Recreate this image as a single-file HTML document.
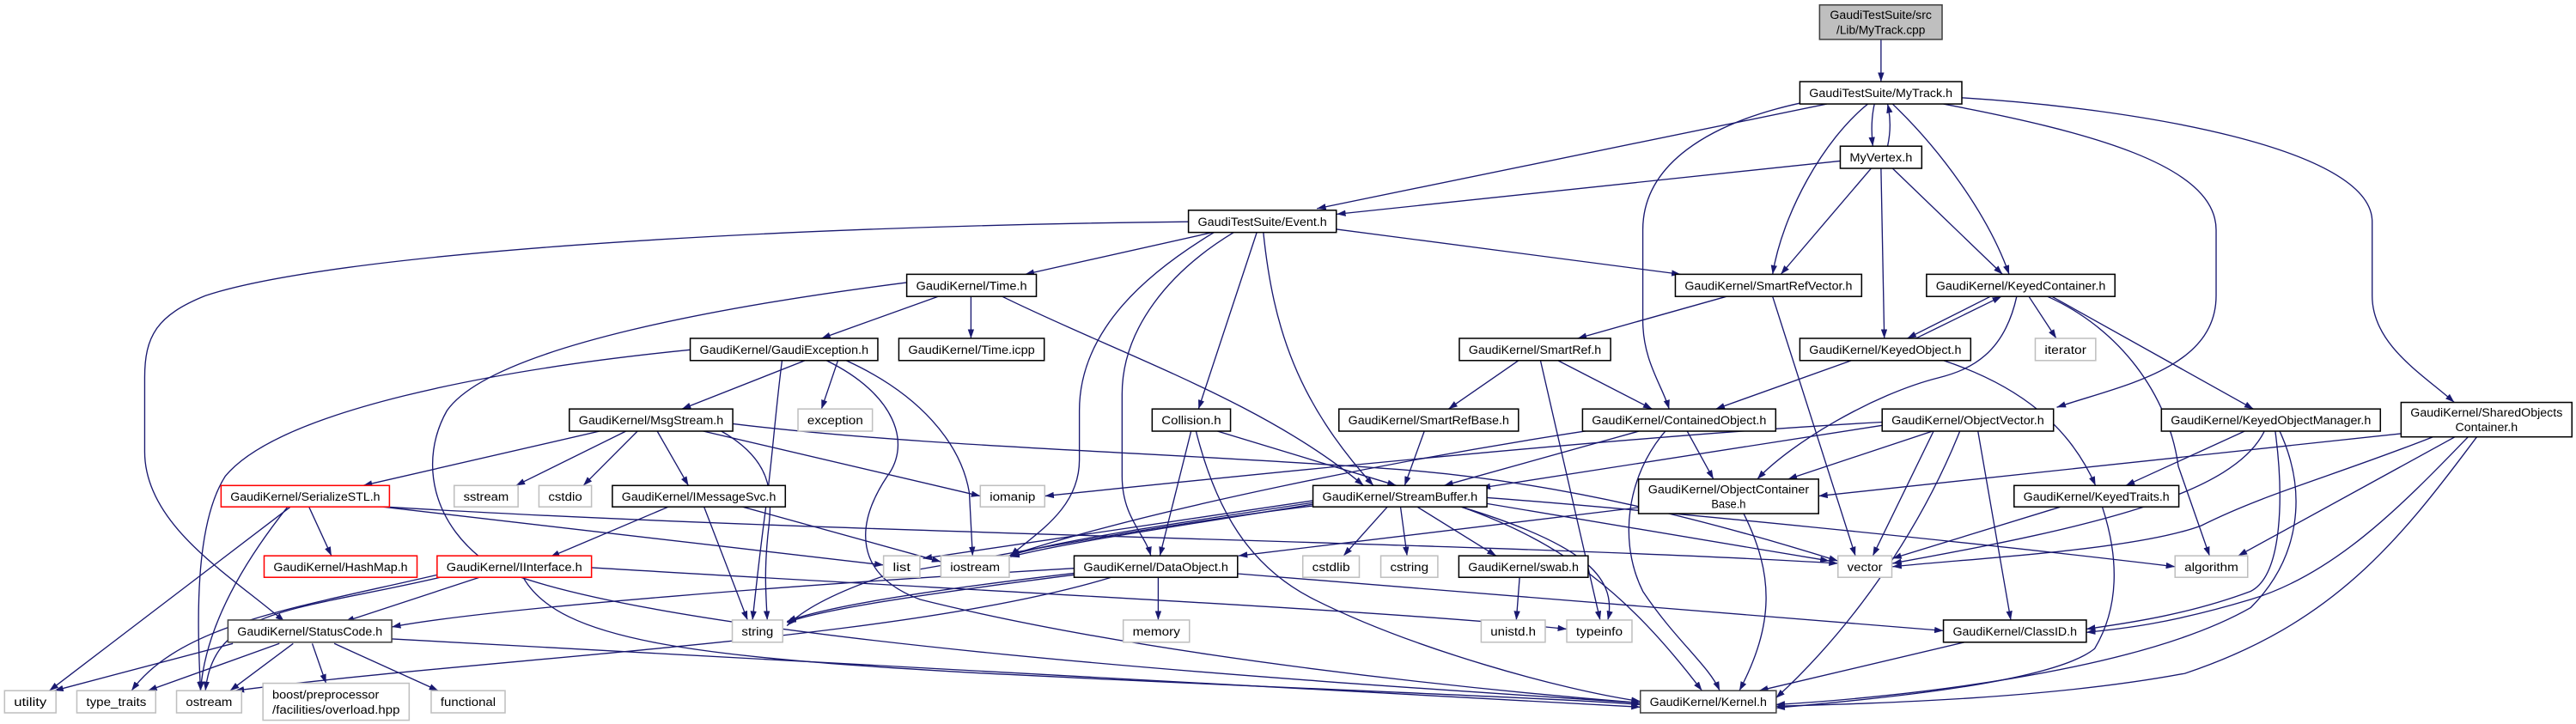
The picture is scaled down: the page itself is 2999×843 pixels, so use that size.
<!DOCTYPE html>
<html><head><meta charset="utf-8"><style>
html,body{margin:0;padding:0;background:#fff;width:2999px;height:843px;overflow:hidden}
svg{display:block}
text{font-family:"Liberation Sans","DejaVu Sans",sans-serif;font-size:7.2px;fill:#000}
.e{fill:none;stroke:#191970;stroke-width:0.7;marker-end:url(#a)}
.n rect{fill:#fff;stroke:#000;stroke-width:0.8}
.g rect{fill:#fff;stroke:#bfbfbf;stroke-width:0.8}
.r rect{fill:#fff;stroke:#ff0000;stroke-width:0.8}
</style></head><body>
<svg width="2999" height="843" viewBox="0 0 1568 440.8" xmlns="http://www.w3.org/2000/svg">
<defs><marker id="a" markerUnits="userSpaceOnUse" viewBox="0 0 10 7" refX="10" refY="3.5" markerWidth="5.5" markerHeight="3.9" orient="auto"><path d="M0,0 L10,3.5 L0,7 z" fill="#191970"/></marker></defs>
<g>
<path class="e" d="M1145,24 L1145,49.7"/>
<path class="e" d="M1141,63.3 C1139,72 1139,80 1140,89"/>
<path class="e" d="M1149,89 C1151,80 1151,72 1149,63.3"/>
<path class="e" d="M1112,63.3 L801.6,127"/>
<path class="e" d="M1120.2,98 L813.6,130.4"/>
<path class="e" d="M1096,62.7 C1040,75 1000,100 1000,140 L1000,195 C1000,220 1012,235 1016,249"/>
<path class="e" d="M1137,63.3 C1110,85 1085,130 1079,167"/>
<path class="e" d="M1139,102.5 L1084,167"/>
<path class="e" d="M1152,63.3 C1180,90 1210,130 1223,167"/>
<path class="e" d="M1152,102.5 L1219,167"/>
<path class="e" d="M1145,102.5 L1147,206"/>
<path class="e" d="M1183,63.3 C1270,80 1349,100 1349,140 L1349,180 C1349,225 1290,235 1252,248"/>
<path class="e" d="M1194,59.5 C1300,66 1444,90 1444,135 L1444,180 C1444,210 1475,228 1494,245"/>
<path class="e" d="M738,141.5 L624,167"/>
<path class="e" d="M813,139.5 L1023,167"/>
<path class="e" d="M765,141.5 L729.5,249"/>
<path class="e" d="M769,141.5 C775,200 790,245 836,295.6"/>
<path class="e" d="M739,141.5 C700,165 657,200 657,250 L657,280 C657,310 630,325 615,338.4"/>
<path class="e" d="M751,141.5 C712,165 683,200 683,240 L683,290 C683,315 697,325 700.5,338.4"/>
<path class="e" d="M723.4,135 C450,138 200,155 125,180 C95,192 88,205 88,230 L88,275 C88,320 140,350 173,378.4"/>
<path class="e" d="M571,180.5 L500,206"/>
<path class="e" d="M591,180.5 L591,206"/>
<path class="e" d="M610,180.5 C680,215 770,245 830,295.6"/>
<path class="e" d="M552,172 C450,185 300,210 272,250 C255,280 262,320 300,345 C400,390 800,415 998.5,428"/>
<path class="e" d="M490,219.5 L415,249"/>
<path class="e" d="M510,219.5 L500,249"/>
<path class="e" d="M420,213 C300,225 170,250 137,290 C118,320 120,380 122,420.5"/>
<path class="e" d="M476,219.5 C472,250 470,280 466,310 C462,340 460,360 458,377.5"/>
<path class="e" d="M503,219.5 C545,240 555,270 540,290 C520,320 520,350 560,365 C700,400 900,420 998.5,428"/>
<path class="e" d="M515,219.5 C560,240 585,270 590,300 L592,338.4"/>
<path class="e" d="M365,262.5 L221,295.6"/>
<path class="e" d="M381,262.5 L314,295.6"/>
<path class="e" d="M388,262.5 L355,295.6"/>
<path class="e" d="M400,262.5 L419,295.6"/>
<path class="e" d="M428,262.5 L596.7,302"/>
<path class="e" d="M439,262.5 C470,280 470,300 468,320 C465,345 466,360 467,377.5"/>
<path class="e" d="M446,258 C560,272 700,275 840,285 C950,292 1050,320 1118.8,341.5"/>
<path class="e" d="M188,308.6 L201.7,338.4"/>
<path class="e" d="M176.7,308.6 L30,420.5"/>
<path class="e" d="M175,308.6 C150,340 125,380 122,420.5"/>
<path class="e" d="M233,308.6 L537.8,344"/>
<path class="e" d="M235,308.6 C500,325 900,330 1118.8,343"/>
<path class="e" d="M406.8,308.6 L335,339"/>
<path class="e" d="M428.5,308.6 L455,377.5"/>
<path class="e" d="M452,308.6 L572.7,342"/>
<path class="e" d="M291.8,351.5 L210,378.4"/>
<path class="e" d="M268,351.5 C180,372 130,370 125,420.5"/>
<path class="e" d="M266,350 C180,370 110,380 80,420.5"/>
<path class="e" d="M318.4,351.5 C340,390 420,400 600,410 C800,420 950,425 998.5,429"/>
<path class="e" d="M360,345.6 C600,360 850,372 953.7,383"/>
<path class="e" d="M141.7,391.8 L33,420.5"/>
<path class="e" d="M170,391.8 L90,420.5"/>
<path class="e" d="M178.4,391.8 L140,420.5"/>
<path class="e" d="M190,391.8 L198.4,416"/>
<path class="e" d="M203.4,391.8 L266.7,420.5"/>
<path class="e" d="M238.4,389 L998.5,430.5"/>
<path class="e" d="M705,351.5 L705,377.5"/>
<path class="e" d="M653.8,349 C560,360 500,370 479,378.4"/>
<path class="e" d="M653.8,350 C560,362 500,371 479,379"/>
<path class="e" d="M676.4,351.5 C550,390 300,400 143,420.5"/>
<path class="e" d="M753.3,349.3 L1183,384"/>
<path class="e" d="M653.8,346 C500,355 300,370 238.4,381.7"/>
<path class="e" d="M799.2,304.8 L561.8,340"/>
<path class="e" d="M799.2,307 C720,320 650,330 615,339"/>
<path class="e" d="M799.2,306 C720,318 650,328 615,338"/>
<path class="e" d="M799.2,308 C700,320 600,340 540,350 C510,360 490,370 479,381"/>
<path class="e" d="M844.5,308.6 L817.8,338.4"/>
<path class="e" d="M852.5,308.6 L856.5,338.4"/>
<path class="e" d="M862.7,308.6 L910.7,338.4"/>
<path class="e" d="M889.4,308.6 C960,330 985,350 978.7,377.5"/>
<path class="e" d="M889.4,308.6 C950,330 990,360 1036,420.5"/>
<path class="e" d="M905.1,306.6 L1113.5,341.5"/>
<path class="e" d="M905.1,303 C1000,310 1200,330 1324,345"/>
<path class="e" d="M925,351.5 L923,377.5"/>
<path class="e" d="M1051,180.5 L960.3,206"/>
<path class="e" d="M1079,180.5 L1129.4,338.4"/>
<path class="e" d="M924.3,219.5 L881.7,249"/>
<path class="e" d="M948.3,219.5 L1005.7,249"/>
<path class="e" d="M937.7,219.5 L974,377.5"/>
<path class="e" d="M867,262.5 L855,295.6"/>
<path class="e" d="M1127,219.5 L1044.4,249"/>
<path class="e" d="M1166.3,206 L1218.3,180.5"/>
<path class="e" d="M1183,219.5 C1230,235 1260,260 1275.6,295.6"/>
<path class="e" d="M1211.6,180.5 L1161,206"/>
<path class="e" d="M1235,180.5 L1251.7,206"/>
<path class="e" d="M1227.6,180.5 C1220,215 1200,225 1180,230 C1140,240 1090,270 1069.7,291.7"/>
<path class="e" d="M1246.3,180.5 C1290,200 1320,240 1326,283.9 L1345,338.4"/>
<path class="e" d="M1249,180.5 L1371.7,249"/>
<path class="e" d="M997.7,262.5 L879,295.6"/>
<path class="e" d="M968,262 C850,280 700,310 614,338.4"/>
<path class="e" d="M1027,262.5 L1043,291.7"/>
<path class="e" d="M1013.7,262.5 C990,290 985,330 1000,360 C1020,390 1040,405 1046.8,420.5"/>
<path class="e" d="M1176.4,262.5 L1088.4,291.7"/>
<path class="e" d="M1145.7,259 L901.7,297"/>
<path class="e" d="M1145.7,257 C1000,265 800,285 636,302"/>
<path class="e" d="M1177,262.5 L1140,338.4"/>
<path class="e" d="M1204,262.5 L1224,377.5"/>
<path class="e" d="M1193,262.5 C1170,320 1130,380 1081,425"/>
<path class="e" d="M1366.4,262.5 L1294,295.6"/>
<path class="e" d="M1378.4,262.5 C1360,300 1280,320 1152,343"/>
<path class="e" d="M1385,262.5 C1390,300 1390,350 1370,360 C1330,375 1290,380 1270,383"/>
<path class="e" d="M1387.7,262.5 C1405,300 1400,340 1370,370 C1300,410 1150,425 1081,429"/>
<path class="e" d="M1461.6,264 L1107,302"/>
<path class="e" d="M1481,266 C1420,290 1380,300 1340,320 C1300,335 1200,340 1152,345"/>
<path class="e" d="M1494.4,266 L1362.4,338.4"/>
<path class="e" d="M1502.4,266 C1460,310 1420,350 1370,365 C1320,380 1290,383 1270,385"/>
<path class="e" d="M1507.7,266 C1460,330 1420,380 1330,410 C1250,425 1150,428 1081,430"/>
<path class="e" d="M1254.3,308.6 L1152,340"/>
<path class="e" d="M1279.7,308.6 C1290,340 1290,370 1275,395 C1250,415 1150,425 1081,431"/>
<path class="e" d="M997.4,309 L753.8,338.4"/>
<path class="e" d="M1061.4,312.7 C1080,350 1080,380 1058.8,420.5"/>
<path class="e" d="M1196,391 L1070.8,420.5"/>
<path class="e" d="M725,262.5 L706,338.4"/>
<path class="e" d="M741,262.5 L850,295.6"/>
<path class="e" d="M728,262.5 C740,310 760,345 800,365 C860,395 950,420 998.5,427"/>
</g>

<g class="n"><rect x="1107.6" y="3" width="74.6" height="21" style="fill:#bfbfbf;stroke:#404040"/>
<text x="1144.9" y="11.6" text-anchor="middle" textLength="62" lengthAdjust="spacingAndGlyphs">GaudiTestSuite/src</text>
<text x="1144.9" y="20.6" text-anchor="middle" textLength="54" lengthAdjust="spacingAndGlyphs">/Lib/MyTrack.cpp</text></g>

<g class="n"><rect x="1095.6" y="49.7" width="98.6" height="13.6"/><text x="1101.3" y="59.1" textLength="87.2" lengthAdjust="spacingAndGlyphs">GaudiTestSuite/MyTrack.h</text></g>
<g class="n"><rect x="1120.2" y="89" width="49.6" height="13.5"/><text x="1125.9" y="98.4" textLength="38.2" lengthAdjust="spacingAndGlyphs">MyVertex.h</text></g>
<g class="n"><rect x="723.4" y="128" width="90" height="13.5"/><text x="729.1" y="137.4" textLength="78.6" lengthAdjust="spacingAndGlyphs">GaudiTestSuite/Event.h</text></g>
<g class="n"><rect x="551.9" y="167" width="78.9" height="13.5"/><text x="557.6" y="176.4" textLength="67.5" lengthAdjust="spacingAndGlyphs">GaudiKernel/Time.h</text></g>
<g class="n"><rect x="1019.8" y="167" width="113.4" height="13.5"/><text x="1025.5" y="176.4" textLength="102" lengthAdjust="spacingAndGlyphs">GaudiKernel/SmartRefVector.h</text></g>
<g class="n"><rect x="1172.7" y="167" width="114.7" height="13.5"/><text x="1178.4" y="176.4" textLength="103.3" lengthAdjust="spacingAndGlyphs">GaudiKernel/KeyedContainer.h</text></g>
<g class="n"><rect x="420.1" y="206" width="114.2" height="13.5"/><text x="425.8" y="215.4" textLength="102.8" lengthAdjust="spacingAndGlyphs">GaudiKernel/GaudiException.h</text></g>
<g class="n"><rect x="547.1" y="206" width="88.5" height="13.5"/><text x="552.8" y="215.4" textLength="77.1" lengthAdjust="spacingAndGlyphs">GaudiKernel/Time.icpp</text></g>
<g class="n"><rect x="888.3" y="206" width="92.1" height="13.5"/><text x="894" y="215.4" textLength="80.7" lengthAdjust="spacingAndGlyphs">GaudiKernel/SmartRef.h</text></g>
<g class="n"><rect x="1095.6" y="206" width="104" height="13.5"/><text x="1101.3" y="215.4" textLength="92.6" lengthAdjust="spacingAndGlyphs">GaudiKernel/KeyedObject.h</text></g>
<g class="g"><rect x="1238.9" y="206" width="36.8" height="13.5"/><text x="1244.6" y="215.4" textLength="25.4" lengthAdjust="spacingAndGlyphs">iterator</text></g>
<g class="n"><rect x="346.5" y="249" width="99.5" height="13.5"/><text x="352.2" y="258.4" textLength="88.1" lengthAdjust="spacingAndGlyphs">GaudiKernel/MsgStream.h</text></g>
<g class="g"><rect x="485.7" y="249" width="45.3" height="13.5"/><text x="491.4" y="258.4" textLength="33.9" lengthAdjust="spacingAndGlyphs">exception</text></g>
<g class="n"><rect x="701.3" y="249" width="47.7" height="13.5"/><text x="707" y="258.4" textLength="36.3" lengthAdjust="spacingAndGlyphs">Collision.h</text></g>
<g class="n"><rect x="815" y="249" width="109.3" height="13.5"/><text x="820.7" y="258.4" textLength="97.9" lengthAdjust="spacingAndGlyphs">GaudiKernel/SmartRefBase.h</text></g>
<g class="n"><rect x="963.3" y="249" width="117.6" height="13.5"/><text x="969" y="258.4" textLength="106.2" lengthAdjust="spacingAndGlyphs">GaudiKernel/ContainedObject.h</text></g>
<g class="n"><rect x="1145.7" y="249" width="104.3" height="13.5"/><text x="1151.4" y="258.4" textLength="92.9" lengthAdjust="spacingAndGlyphs">GaudiKernel/ObjectVector.h</text></g>
<g class="n"><rect x="1315.7" y="249" width="133.3" height="13.5"/><text x="1321.4" y="258.4" textLength="121.9" lengthAdjust="spacingAndGlyphs">GaudiKernel/KeyedObjectManager.h</text></g>
<g class="n"><rect x="1461.6" y="245" width="104" height="21"/><text x="1513.6" y="253.6" text-anchor="middle" textLength="92.6" lengthAdjust="spacingAndGlyphs">GaudiKernel/SharedObjects</text><text x="1513.6" y="262.6" text-anchor="middle" textLength="38" lengthAdjust="spacingAndGlyphs">Container.h</text></g>

<g class="r"><rect x="134.5" y="295.6" width="102.5" height="13"/><text x="140.2" y="304.8" textLength="91.1" lengthAdjust="spacingAndGlyphs">GaudiKernel/SerializeSTL.h</text></g>
<g class="g"><rect x="276.4" y="295.6" width="38.9" height="13"/><text x="282.1" y="304.8" textLength="27.5" lengthAdjust="spacingAndGlyphs">sstream</text></g>
<g class="g"><rect x="328" y="295.6" width="32" height="13"/><text x="333.7" y="304.8" textLength="20.6" lengthAdjust="spacingAndGlyphs">cstdio</text></g>
<g class="n"><rect x="372.7" y="295.6" width="105.3" height="13"/><text x="378.4" y="304.8" textLength="93.9" lengthAdjust="spacingAndGlyphs">GaudiKernel/IMessageSvc.h</text></g>
<g class="g"><rect x="596.7" y="295.6" width="39.2" height="13"/><text x="602.4" y="304.8" textLength="27.8" lengthAdjust="spacingAndGlyphs">iomanip</text></g>
<g class="n"><rect x="799.2" y="295.6" width="105.9" height="13"/><text x="804.9" y="304.8" textLength="94.5" lengthAdjust="spacingAndGlyphs">GaudiKernel/StreamBuffer.h</text></g>
<g class="n"><rect x="997.4" y="291.7" width="109.6" height="21"/><text x="1052.2" y="300.3" text-anchor="middle" textLength="98" lengthAdjust="spacingAndGlyphs">GaudiKernel/ObjectContainer</text><text x="1052.2" y="309.3" text-anchor="middle" textLength="21" lengthAdjust="spacingAndGlyphs">Base.h</text></g>
<g class="n"><rect x="1226" y="295.6" width="100.3" height="13"/><text x="1231.7" y="304.8" textLength="88.9" lengthAdjust="spacingAndGlyphs">GaudiKernel/KeyedTraits.h</text></g>

<g class="r"><rect x="160.7" y="338.4" width="93.1" height="13.1"/><text x="166.4" y="347.6" textLength="81.7" lengthAdjust="spacingAndGlyphs">GaudiKernel/HashMap.h</text></g>
<g class="r"><rect x="266" y="338.4" width="94" height="13.1"/><text x="271.7" y="347.6" textLength="82.6" lengthAdjust="spacingAndGlyphs">GaudiKernel/IInterface.h</text></g>
<g class="g"><rect x="537.8" y="338.4" width="22.1" height="13.1"/><text x="543.5" y="347.6" textLength="10.7" lengthAdjust="spacingAndGlyphs">list</text></g>
<g class="g"><rect x="572.7" y="338.4" width="41.6" height="13.1"/><text x="578.4" y="347.6" textLength="30.2" lengthAdjust="spacingAndGlyphs">iostream</text></g>
<g class="n"><rect x="653.8" y="338.4" width="99.5" height="13.1"/><text x="659.5" y="347.6" textLength="88.1" lengthAdjust="spacingAndGlyphs">GaudiKernel/DataObject.h</text></g>
<g class="g"><rect x="793" y="338.4" width="34.4" height="13.1"/><text x="798.7" y="347.6" textLength="23" lengthAdjust="spacingAndGlyphs">cstdlib</text></g>
<g class="g"><rect x="840.5" y="338.4" width="34.7" height="13.1"/><text x="846.2" y="347.6" textLength="23.3" lengthAdjust="spacingAndGlyphs">cstring</text></g>
<g class="n"><rect x="888" y="338.4" width="78.7" height="13.1"/><text x="893.7" y="347.6" textLength="67.3" lengthAdjust="spacingAndGlyphs">GaudiKernel/swab.h</text></g>
<g class="g"><rect x="1118.8" y="338.4" width="32.8" height="13.1"/><text x="1124.5" y="347.6" textLength="21.4" lengthAdjust="spacingAndGlyphs">vector</text></g>
<g class="g"><rect x="1324" y="338.4" width="44.2" height="13.1"/><text x="1329.7" y="347.6" textLength="32.8" lengthAdjust="spacingAndGlyphs">algorithm</text></g>

<g class="n"><rect x="138.7" y="377.5" width="99.7" height="13.5" style="stroke:#404040"/><text x="144.4" y="386.9" textLength="88.3" lengthAdjust="spacingAndGlyphs">GaudiKernel/StatusCode.h</text></g>
<g class="g"><rect x="445.7" y="377.5" width="30.7" height="13.5"/><text x="451.4" y="386.9" textLength="19.3" lengthAdjust="spacingAndGlyphs">string</text></g>
<g class="g"><rect x="683.7" y="377.5" width="40.3" height="13.5"/><text x="689.4" y="386.9" textLength="28.9" lengthAdjust="spacingAndGlyphs">memory</text></g>
<g class="g"><rect x="901.6" y="377.5" width="39" height="13.5"/><text x="907.3" y="386.9" textLength="27.6" lengthAdjust="spacingAndGlyphs">unistd.h</text></g>
<g class="g"><rect x="953.7" y="377.5" width="39.7" height="13.5"/><text x="959.4" y="386.9" textLength="28.3" lengthAdjust="spacingAndGlyphs">typeinfo</text></g>
<g class="n"><rect x="1183" y="377.5" width="87" height="13.5"/><text x="1188.7" y="386.9" textLength="75.6" lengthAdjust="spacingAndGlyphs">GaudiKernel/ClassID.h</text></g>

<g class="g"><rect x="2.7" y="420.5" width="31.3" height="13.5"/><text x="8.4" y="429.9" textLength="19.9" lengthAdjust="spacingAndGlyphs">utility</text></g>
<g class="g"><rect x="46.7" y="420.5" width="48" height="13.5"/><text x="52.4" y="429.9" textLength="36.6" lengthAdjust="spacingAndGlyphs">type_traits</text></g>
<g class="g"><rect x="107.4" y="420.5" width="39.6" height="13.5"/><text x="113.1" y="429.9" textLength="28.2" lengthAdjust="spacingAndGlyphs">ostream</text></g>
<g class="g"><rect x="160" y="416" width="89" height="22.5"/><text x="165.7" y="425.3" textLength="65" lengthAdjust="spacingAndGlyphs">boost/preprocessor</text><text x="165.7" y="434.5" textLength="77.6" lengthAdjust="spacingAndGlyphs">/facilities/overload.hpp</text></g>
<g class="g"><rect x="262.4" y="420.5" width="45" height="13.5"/><text x="268.1" y="429.9" textLength="33.6" lengthAdjust="spacingAndGlyphs">functional</text></g>
<g class="n"><rect x="998.5" y="420.5" width="82.7" height="13.5" style="stroke:#404040"/><text x="1004.2" y="429.9" textLength="71.3" lengthAdjust="spacingAndGlyphs">GaudiKernel/Kernel.h</text></g>
</svg>
</body></html>
